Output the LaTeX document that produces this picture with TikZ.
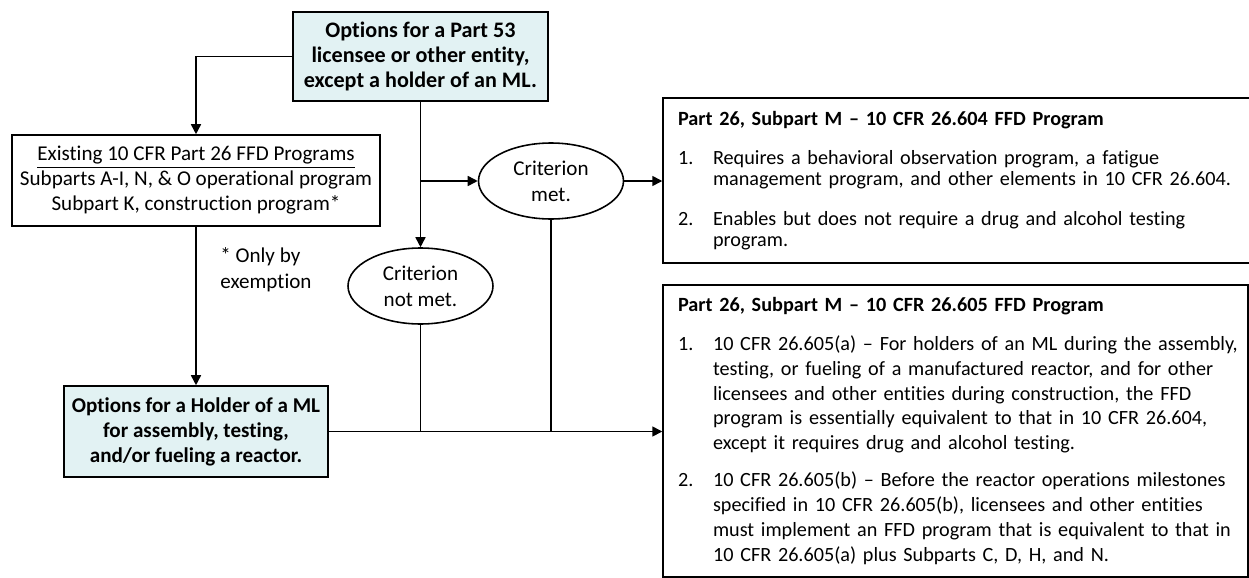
\documentclass[tikz,border=0pt]{standalone}
\usepackage{fontspec}
\setmainfont{Carlito}[Ligatures={TeX,NoCommon}]
\usetikzlibrary{arrows.meta,shapes.geometric}
\frenchspacing

\definecolor{optfill}{RGB}{226,242,243}
% one line of a numbered entry: number (or nothing) and its text
\newcommand{\entry}[2]{\makebox[0.7cm][l]{#1}\mbox{#2}}

\tikzset{
	optbox/.style={shape=rectangle, draw=black, line width=0.9pt, fill=optfill, align=center,
		font=\bfseries\fontsize{12}{14.2}\selectfont},
	plainbox/.style={shape=rectangle, draw=black, line width=0.9pt, align=center,
		font=\fontsize{12}{14.2}\selectfont},
	crit/.style={shape=ellipse, draw=black, line width=0.9pt, align=center, inner sep=0pt,
		minimum width=2.9cm, minimum height=1.52cm, font=\fontsize{12}{14.8}\selectfont},
	listbox/.style={shape=rectangle, draw=black, line width=0.9pt, align=left,
		inner xsep=0.3cm, inner ysep=0pt},
	conn/.style={line width=0.9pt},
	arr/.style={conn, -{Triangle[length=0.2cm,width=0.2cm]}}
}

\begin{document}
\begin{tikzpicture}[x=0.02cm, y=-0.02cm]
	\useasboundingbox (0,0) rectangle (1249,578);

	\node[optbox, minimum width=5.1cm, minimum height=1.78cm,
		font=\bfseries\fontsize{12.6}{14.2}\selectfont]         (part53)   at (420.5,56.5) {Options for a Part 53\\licensee or other entity,\\except a holder of an ML.};
	\node[plainbox, minimum width=7.36cm, minimum height=1.82cm] (existing) at (196,180.5)  {\underline{Existing 10 CFR Part 26 FFD Programs}\\Subparts A-I, N, \& O operational program\\Subpart K, construction program*};
	\node[optbox, minimum width=5.28cm, minimum height=1.82cm]   (holder)   at (196,431.5)  {Options for a Holder of a ML\\for assembly, testing,\\and/or fueling a reactor.};
	\node[crit]                                                  (met)      at (551,181)    {Criterion\\met.};
	\node[crit]                                                  (notmet)   at (420.5,286)  {Criterion\\not met.};
	\node[anchor=west, align=left, inner sep=0pt, font=\fontsize{12}{14.8}\selectfont]
	                                                             (note)     at (220,270)    {* Only by\\exemption};

	\node[listbox, minimum width=11.76cm, minimum height=3.3cm, text width=11.16cm,
		font=\fontsize{11.5}{12}\selectfont]                     (p604)     at (957,180.5)  {%
		\textbf{Part 26, Subpart M – 10 CFR 26.604 FFD Program}\\[0.36cm]
		\entry{1.}{Requires a behavioral observation program, a fatigue}\\
		\entry{}{management program, and other elements in 10 CFR 26.604.}\\[0.38cm]
		\entry{2.}{Enables but does not require a drug and alcohol testing}\\
		\entry{}{program.}};
	\node[listbox, minimum width=11.7cm, minimum height=5.84cm, text width=11.1cm,
		font=\fontsize{11.5}{14.2}\selectfont]                   (p605)     at (955.5,431)  {%
		\textbf{Part 26, Subpart M – 10 CFR 26.605 FFD Program}\\[0.28cm]
		\entry{1.}{10 CFR 26.605(a) – For holders of an ML during the assembly,}\\
		\entry{}{testing, or fueling of a manufactured reactor, and for other}\\
		\entry{}{licensees and other entities during construction, the FFD}\\
		\entry{}{program is essentially equivalent to that in 10 CFR 26.604,}\\
		\entry{}{except it requires drug and alcohol testing.}\\[0.24cm]
		\entry{2.}{10 CFR 26.605(b) – Before the reactor operations milestones}\\
		\entry{}{specified in 10 CFR 26.605(b), licensees and other entities}\\
		\entry{}{must implement an FFD program that is equivalent to that in}\\
		\entry{}{10 CFR 26.605(a) plus Subparts C, D, H, and N.}};

	\coordinate (split) at (part53.south |- met.west);

	\draw[arr]  (part53.west) -| (existing.north);
	\draw[arr]  (existing.south) -- (holder.north);
	\draw[arr]  (part53.south) -- (notmet.north);
	\draw[arr]  (split) -- (met.west);
	\draw[arr]  (met.east) -- (met.east -| p604.west);
	\draw[arr]  (holder.east) -- (holder.east -| p605.west);
	\draw[conn] (notmet.south) -- (notmet.south |- holder.east);
	\draw[conn] (met.south) -- (met.south |- holder.east);
\end{tikzpicture}
\end{document}
